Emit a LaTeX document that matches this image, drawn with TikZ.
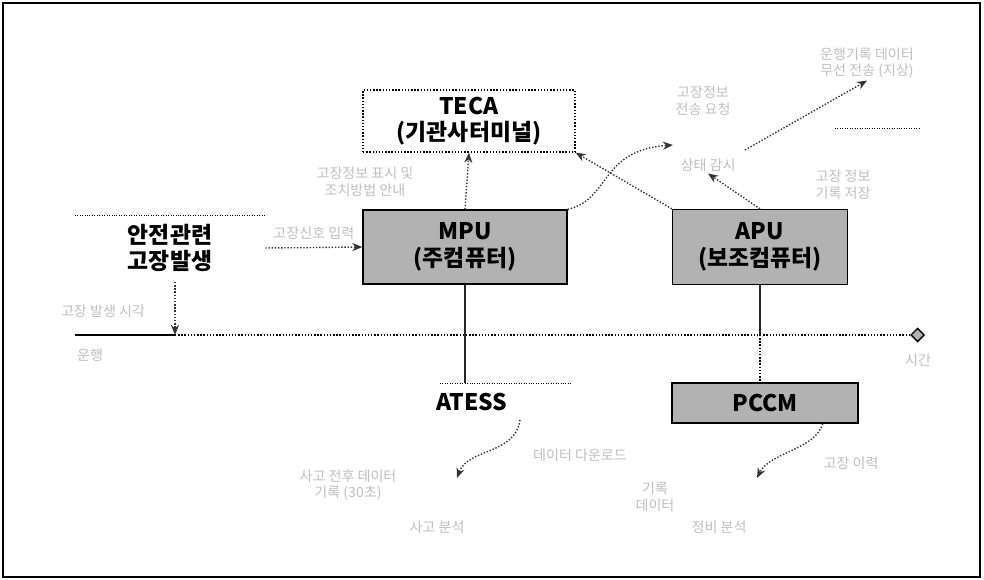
\documentclass[tikz,border=0pt]{standalone}
\usepackage{fontspec}
\setmainfont{Noto Sans CJK KR}
\usepackage{tikz}
\usetikzlibrary{positioning, arrows.meta, calc}

\begin{document}
\begin{tikzpicture}[
  x=0.02cm, y=-0.02cm,
  every node/.style={align=center, font=\fontsize{13}{15}\selectfont\bfseries},
  unit/.style={rectangle, draw=black, fill=gray!60, line width=0.8pt},
  terminal/.style={rectangle, draw=black, densely dotted, line width=0.8pt,
                   minimum width=4.24cm, minimum height=1.24cm},
  note/.style={font=\footnotesize, text=gray!50, align=center, inner sep=1pt},
  flow/.style={-{Stealth[length=2mm, width=1.6mm]}, densely dotted, thick, draw=black!80},
  link/.style={line width=1pt, draw=black!85}
]
\useasboundingbox (0,0) rectangle (984,580);
\draw [line width=1pt] (3,3) rectangle (980,577);

% ---- Units ----
\node (teca) [terminal] at (469,121) {TECA\\(기관사터미널)};
\node (mpu)  [unit, minimum width=4.08cm, minimum height=1.48cm] at (465,247) {MPU\\(주컴퓨터)};
\node (apu)  [unit, minimum width=3.5cm, minimum height=1.5cm]  at (760,247) {APU\\(보조컴퓨터)};
\node (pccm) [unit, minimum width=3.72cm, minimum height=0.8cm] at (765,403) {PCCM};
\node (atess) at (472,402) {ATESS};

% ---- Fault ----
\node (fault) [minimum width=3.8cm] at (170,248) {안전관련\\고장발생};
\draw [densely dotted] (fault.north west |- 0,215) -- (fault.north east |- 0,215);

% ---- Time axis ----
\coordinate (tstart) at (75,335);
\coordinate (tfault) at (175,335);
\coordinate (tend)   at (925,335);
\draw [line width=1pt] (tstart) -- (tfault);
\draw [densely dotted, thick, -{Diamond[length=3mm, width=3mm, fill=gray!60]}] (tfault) -- (tend);
\draw [flow] (175,282) -- (tfault);
\node (tfaultlbl) [note] at (103,311) {고장 발생 시각};
\node (tstartlbl) [note] at (90,355) {운행};
\node (tendlbl)   [note] at (918,360) {시간};

% ---- Links ----
\draw [link] (mpu.south) -- (mpu.south |- 0,383);
\draw [densely dotted] (440,383) -- (572,383);
\draw [link] (apu.south) -- (apu.south |- tend);
\draw [densely dotted, thick] (apu.south |- tend) -- (pccm.north -| apu.south);

% ---- Signals ----
\draw [flow] (fault.east) -- node [note, above=3pt] {고장신호 입력} (mpu.west);
\draw [flow] (mpu.north) -- (teca.south);
\node (tecanote) [note] at (365,182) {고장정보 표시 및\\조치방법 안내};
\draw [flow] (apu.north west) -- (teca.south east);
\coordinate (req) at (673,145);
\draw [flow] (mpu.north east) .. controls (610,200) and (600,150) .. (req);
\node (reqnote) [note] at (703,101) {고장정보\\전송 요청};
\node (status) [note] at (708,165) {상태 감시};
\draw [flow] (apu.north) -- (status.south);
\node (radio) [note] at (867,63) {운행기록 데이터\\무선 전송 (지상)};
\draw [flow] (745,150) -- (radio.south);
\draw [densely dotted] (835,128) -- (920,128);
\node (apunote) [note] at (843,185) {고장 정보\\기록 저장};

% ---- Downloads ----
\coordinate (atessdl) at (457,478);
\coordinate (pccmdl) at (757,478);
\draw [flow] (520,420) .. controls (515,455) and (468,448) .. (atessdl);
\draw [flow] (pccm.south east) ++(-36,0) .. controls (815,450) and (770,452) .. (pccmdl);
\node (atessnote) [note] at (348,485) {사고 전후 데이터\\기록 (30초)};
\node (dlnote)    [note] at (580,455) {데이터 다운로드};
\node (anal)      [note] at (437,527) {사고 분석};
\node (recnote)   [note] at (655,497) {기록\\데이터};
\node (pccmnote)  [note] at (851,463) {고장 이력};
\node (maint)     [note] at (719,527) {정비 분석};
\end{tikzpicture}
\end{document}
